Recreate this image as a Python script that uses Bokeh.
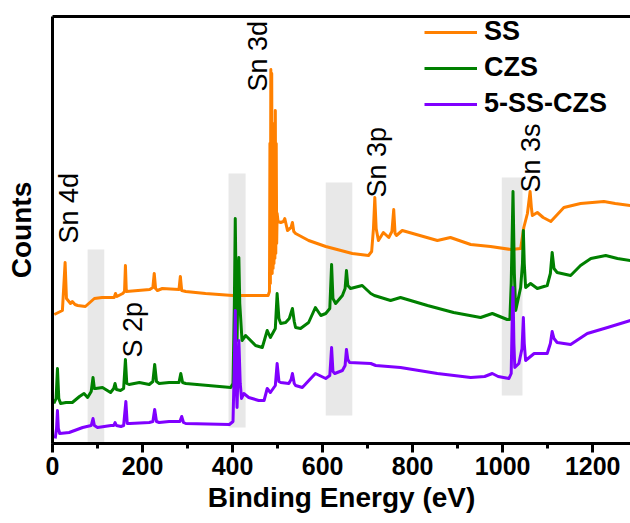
import numpy as np
from bokeh.plotting import figure
from bokeh.models import (Range1d, LinearAxis, FixedTicker, SingleIntervalTicker,
                          Legend, LegendItem)
from bokeh.core.properties import value
from bokeh.embed import file_html
from bokeh.resources import INLINE

# ---------------- data (binding energy eV, counts in arbitrary units) ----------------
ss_e = [4, 22, 28, 31, 40, 44, 50, 56, 73, 93, 110, 137, 140, 143, 156, 160, 162, 164,
        216, 223, 226, 229, 233, 244, 281, 284, 287, 296, 340, 400, 479, 482, 483, 484,
        485, 486, 487, 488, 489, 490, 491, 492, 493, 494, 495, 496, 497, 498, 499, 501,
        507, 513, 516, 522, 530, 533, 536, 540, 569, 607, 666, 702, 709, 713, 716, 719,
        724, 735, 747, 754, 758, 761, 764, 777, 855, 884, 929, 973, 1018, 1040, 1047,
        1055, 1061, 1064, 1066, 1077, 1090, 1107, 1136, 1173, 1225, 1250, 1284]
ss_c = [129, 133, 181, 145, 140, 142, 139, 138, 137, 145, 146, 146, 150, 147, 150, 152, 178, 152,
        154, 156, 170, 155, 153, 155, 154, 167, 153, 152, 150, 148, 148, 152, 300, 160,
        374, 180, 370, 170, 300, 175, 290, 180, 320, 185, 333, 190, 300, 200, 230, 222,
        221, 222, 225, 213, 216, 221, 212, 210, 203, 197, 190, 188, 192, 215, 246, 215,
        203, 211, 206, 212, 234, 210, 208, 213, 203, 206, 199, 197, 194, 195, 216,
        230, 252, 235, 228, 231, 226, 222, 236, 240, 242, 240, 238]

czs_e = [3, 8, 11, 14, 18, 30, 44, 60, 70, 78, 86, 90, 93, 96, 111, 129, 136, 139, 142,
         151, 158, 162, 165, 170, 193, 215, 223, 227, 231, 237, 259, 281, 285, 289, 296,
         396, 401, 404, 406, 408, 410, 412, 414, 416, 421, 429, 451, 466, 477, 484, 495,
         499, 503, 507, 518, 526, 533, 537, 540, 551, 569, 584, 596, 607, 616, 620, 623,
         629, 644, 650, 653, 656, 662, 688, 707, 715, 751, 773, 833, 891, 951, 977, 1010,
         1016, 1019, 1023, 1026, 1029, 1040, 1044, 1046, 1048, 1051, 1062, 1077, 1099,
         1106, 1110, 1114, 1121, 1151, 1173, 1196, 1229, 1255, 1284]
czs_c = [40, 45, 75, 45, 40, 41, 41, 47, 50, 46, 52, 66, 55, 55, 56, 51, 55, 60, 54,
         53, 55, 84, 60, 59, 61, 59, 62, 79, 62, 60, 61, 61, 70, 61, 60,
         56, 60, 140, 225, 150, 103, 160, 186, 140, 103, 108, 98, 96, 113, 106, 115,
         150, 125, 120, 121, 125, 135, 122, 116, 115, 121, 136, 128, 130, 135, 179, 145,
         140, 148, 155, 173, 158, 155, 158, 150, 148, 143, 146, 138, 131, 126, 130, 124,
         124, 160, 252, 170, 133, 156, 180, 213, 180, 156, 160, 155, 158,
         170, 191, 175, 171, 168, 178, 185, 188, 185, 183]

mix_e = [6, 9, 11, 13, 16, 37, 67, 86, 90, 93, 100, 130, 136, 139, 142, 152, 158, 163, 166,
         172, 215, 223, 227, 231, 237, 259, 283, 287, 291, 296, 393, 401, 404, 406, 408,
         410, 412, 414, 417, 420, 425, 436, 458, 470, 477, 484, 495, 499, 503, 507, 525,
         530, 533, 537, 540, 555, 584, 607, 616, 620, 623, 627, 644, 650, 653, 656, 660,
         707, 718, 773, 855, 929, 960, 977, 990, 1014, 1019, 1021, 1023, 1025, 1027, 1036,
         1043, 1046, 1048, 1051, 1070, 1099, 1106, 1110, 1114, 1121, 1151, 1188, 1233, 1284]
mix_c = [5, 15, 33, 15, 10, 11, 16, 18, 25, 18, 16, 18, 18, 21, 18, 17, 18, 42, 20,
         20, 21, 22, 34, 22, 21, 22, 22, 27, 21, 20, 19, 22, 80, 133, 60,
         36, 70, 103, 60, 45, 50, 46, 43, 43, 55, 51, 58, 80, 62, 61, 60,
         64, 70, 60, 58, 56, 70, 65, 68, 96, 72, 70, 73, 78, 94, 84, 81,
         80, 78, 76, 70, 66, 67, 70, 67, 65, 70, 120, 156, 100, 76, 80,
         95, 126, 100, 83, 90, 90, 100, 112, 105, 101, 99, 110, 116, 123]

series_names = ["SS", "CZS", "5-SS-CZS"]
series_colors = ["#FF8000", "#008000", "#8000FF"]

# highlighted (grey) energy windows
box_left = [78, 391, 607, 998]
box_right = [115, 429, 666, 1044]
box_bottom = [0, 16, 28, 48]
box_top = [194, 270, 261, 266]

# peak annotations
ann_text = ["Sn 4d", "S 2p", "Sn 3d", "Sn 3p", "Sn 3s"]
ann_e = [36, 178, 456, 720, 1062]
ann_c = [200, 86, 352, 246, 251]

FONT = "Liberation Sans"

p = figure(frame_width=578, frame_height=427, output_backend="svg", toolbar_location=None,
           x_range=Range1d(0, 1284), y_range=Range1d(0, 427),
           min_border_left=52, min_border_right=0, min_border_top=16, min_border_bottom=80,
           background_fill_color="white", border_fill_color="white")
p.outline_line_color = None
p.xgrid.visible = False
p.ygrid.visible = False

p.quad(left=box_left, right=box_right, bottom=box_bottom, top=box_top,
       fill_color="#e8e8e8", line_color=None)

renderers = []
for e, c, col in zip([ss_e, czs_e, mix_e], [ss_c, czs_c, mix_c], series_colors):
    r = p.line(e, c, line_color=col, line_width=3, line_join="round")
    renderers.append(r)

p.text(x=ann_e, y=ann_c, text=ann_text, angle=np.pi / 2, text_align="left",
       text_baseline="middle", text_font=value(FONT), text_font_size="27px",
       text_color="black")

# bottom axis
xa = p.xaxis[0]
xa.ticker = SingleIntervalTicker(interval=200, num_minor_ticks=2)
xa.axis_line_width = 3
xa.major_tick_line_width = 3
xa.minor_tick_line_width = 3
xa.major_tick_out = 9
xa.major_tick_in = 0
xa.minor_tick_out = 5
xa.minor_tick_in = 0
xa.major_label_text_font = FONT
xa.major_label_text_font_style = "bold"
xa.major_label_text_font_size = "25px"
xa.major_label_text_color = "black"
xa.major_label_standoff = 4
xa.axis_label = "Binding Energy (eV)"
xa.axis_label_text_font = FONT
xa.axis_label_text_font_style = "bold"
xa.axis_label_text_font_size = "28px"
xa.axis_label_text_color = "black"
xa.axis_label_standoff = 4

# left axis
ya = p.yaxis[0]
ya.ticker = FixedTicker(ticks=[])
ya.axis_line_width = 3
ya.major_tick_out = 0
ya.minor_tick_out = 0
ya.axis_label = "Counts"
ya.axis_label_text_font = FONT
ya.axis_label_text_font_style = "bold"
ya.axis_label_text_font_size = "28px"
ya.axis_label_text_color = "black"
ya.axis_label_standoff = 16

# top border as axis line
top = LinearAxis(ticker=FixedTicker(ticks=[]), axis_line_width=3, major_tick_out=0,
                 minor_tick_out=0, major_label_text_font_size="0px")
p.add_layout(top, "above")

legend = Legend(items=[LegendItem(label=n, renderers=[r]) for n, r in zip(series_names, renderers)],
                location=(372, 324), border_line_color=None, background_fill_alpha=0,
                label_text_font=FONT, label_text_font_style="bold", label_text_font_size="27px",
                label_text_color="black",
                glyph_width=53, glyph_height=30, label_height=30, spacing=5, padding=0,
                margin=0, label_standoff=7)
p.add_layout(legend)

open("out.html", "w").write(file_html(p, INLINE))
